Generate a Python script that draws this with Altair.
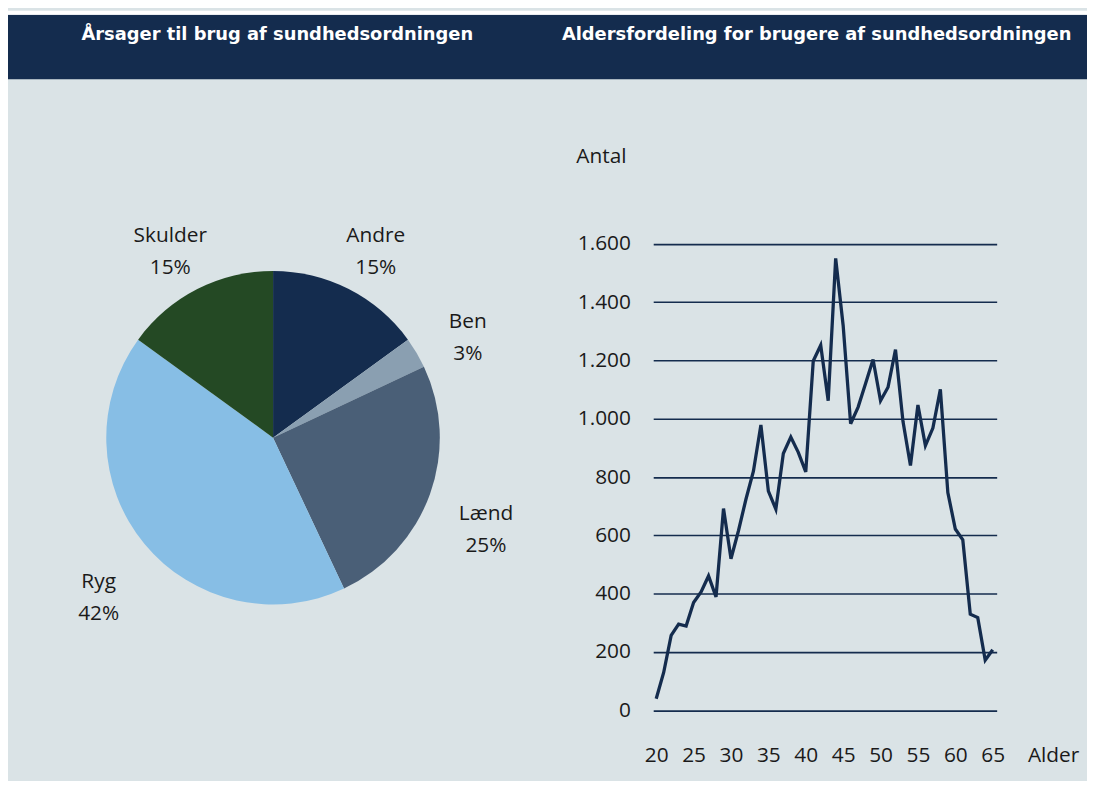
import altair as alt
import pandas as pd

# ---------------- data ----------------
titles = ["Årsager til brug af sundhedsordningen",
          "Aldersfordeling for brugere af sundhedsordningen"]

categories = ["Andre", "Ben", "Lænd", "Ryg", "Skulder"]
shares = [15, 3, 25, 42, 15]
slice_colors = ["#142c4e", "#8a9fb1", "#4a5f77", "#87bee5", "#244924"]

ages = list(range(20, 66))
counts = [40, 130, 257, 296, 289, 370, 406, 461, 389, 692,
          520, 616, 724, 820, 979, 752, 690, 881, 937, 885,
          818, 1198, 1252, 1062, 1550, 1320, 983, 1040, 1121, 1203,
          1062, 1108, 1237, 991, 840, 1047, 908, 968, 1101, 747,
          622, 585, 330, 318, 172, 208]

x_ticks = [20, 25, 30, 35, 40, 45, 50, 55, 60, 65]
y_ticks = [0, 200, 400, 600, 800, 1000, 1200, 1400, 1600]

# ---------------- style ----------------
W, H = 1087, 773
NAVY = "#142c4e"
BG = "#dae3e6"
TXT = "#1a1a1a"
FONT = "Open Sans"
HFONT = "DejaVu Sans"
FS = 21

pie_df = pd.DataFrame({
    "cat": categories,
    "share": shares,
    "ord": list(range(len(categories))),
})
pie_df["label"] = [f"{c}\n{s}%" for c, s in zip(categories, shares)]

line_df = pd.DataFrame({"age": ages, "count": counts})
one = pd.DataFrame({"t": [0]})

header = alt.Chart(one).mark_rect(color=NAVY).encode(
    x=alt.value(0), x2=alt.value(W), y=alt.value(4), y2=alt.value(69))
strip = alt.Chart(one).mark_rect(color="white").encode(
    x=alt.value(0), x2=alt.value(W), y=alt.value(0), y2=alt.value(4))

t1 = alt.Chart(pd.DataFrame({"t": [titles[0]]})).mark_text(
    font=HFONT, fontSize=18, fontWeight="bold", color="white",
    align="left", baseline="middle").encode(
    text="t:N", x=alt.value(74), y=alt.value(24))
t2 = alt.Chart(pd.DataFrame({"t": [titles[1]]})).mark_text(
    font=HFONT, fontSize=18, fontWeight="bold", color="white",
    align="left", baseline="middle").encode(
    text="t:N", x=alt.value(558), y=alt.value(24))

pie_base = alt.Chart(pie_df).encode(
    theta=alt.Theta("share:Q", stack=True),
    order=alt.Order("ord:Q"),
)
arc = pie_base.mark_arc(outerRadius=168, stroke=None).encode(
    color=alt.Color("cat:N", scale=alt.Scale(domain=categories, range=slice_colors),
                    legend=None),
    x=alt.value(267), y=alt.value(430),
)
pie_text = pie_base.mark_text(
    radius=228, lineBreak="\n", lineHeight=32, font=FONT, fontSize=FS,
    color=TXT, align="center", baseline="middle").encode(
    text="label:N", x=alt.value(267), y=alt.value(430),
)

line = alt.Chart(line_df).mark_line(color=NAVY, strokeWidth=3.3).encode(
    x=alt.X("age:Q",
            scale=alt.Scale(domain=[19.6, 65.53], range=[650, 996], nice=False, zero=False),
            axis=alt.Axis(values=x_ticks, grid=False, domain=False, ticks=False, tickSize=0,
                          offset=704.7 - H, labelPadding=46, labelBaseline="middle",
                          labelFont=FONT, labelFontSize=FS, labelColor=TXT,
                          labelFlush=False, labelOverlap=False,
                          title="Alder", titleFont=FONT, titleFontSize=FS,
                          titleFontWeight="normal", titleColor=TXT,
                          titleX=1027, titleY=46, titleAlign="left",
                          titleBaseline="middle", titleAnchor="start")),
    y=alt.Y("count:Q",
            scale=alt.Scale(domain=[0, 1600], range=[704.7, 234.7], nice=False),
            axis=alt.Axis(values=y_ticks, grid=True, gridColor=NAVY, gridWidth=1.6,
                          gridOpacity=1, domain=False, ticks=False, tickSize=0,
                          offset=-646, labelPadding=19,
                          labelExpr="replace(format(datum.value, ','), ',', '.')",
                          labelFont=FONT, labelFontSize=FS, labelColor=TXT,
                          labelFlush=False, labelOverlap=False,
                          title="Antal", titleFont=FONT, titleFontSize=FS,
                          titleFontWeight="normal", titleColor=TXT, titleAngle=0,
                          titleX=-74, titleY=147, titleAlign="left",
                          titleBaseline="middle", titleAnchor="start")),
)

chart = alt.layer(header, strip, t1, t2, arc, pie_text, line).properties(
    width=W, height=H,
    autosize=alt.AutoSizeParams(type="none"),
    padding=0,
    background=BG,
).configure_view(stroke=None)

chart.save("out.html", embed_options={"renderer": "svg", "actions": False})
